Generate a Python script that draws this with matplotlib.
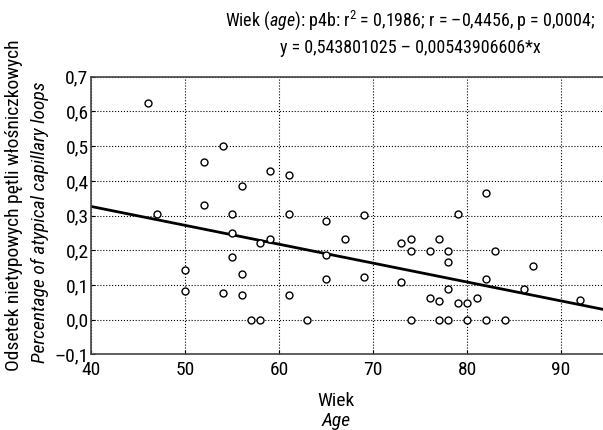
import numpy as np
import matplotlib
matplotlib.use('Agg')
import matplotlib.pyplot as plt
from matplotlib.ticker import FuncFormatter

plt.rcParams['font.family'] = ['Roboto Condensed', 'Liberation Sans', 'DejaVu Sans']
plt.rcParams['mathtext.fontset'] = 'custom'
plt.rcParams['mathtext.rm'] = 'Roboto Condensed'
plt.rcParams['mathtext.it'] = 'Roboto Condensed:italic'

# wiek pacjenta vs odsetek nietypowych petli
age = [46, 47, 50, 50, 52, 52, 54, 54, 55, 55, 55, 56, 56, 56, 57, 58, 58, 59, 59,
       61, 61, 61, 63, 65, 65, 65, 67, 69, 69, 73, 73, 74, 74, 74, 76, 76, 77, 77,
       77, 78, 78, 78, 78, 79, 79, 80, 80, 81, 82, 82, 82, 83, 84, 86, 87, 92]
pct = [0.625, 0.306, 0.142, 0.082, 0.453, 0.331, 0.500, 0.076, 0.306, 0.249, 0.181,
       0.384, 0.131, 0.070, 0.0, 0.220, 0.0, 0.428, 0.233, 0.418, 0.306, 0.070, 0.0,
       0.284, 0.187, 0.117, 0.233, 0.301, 0.123, 0.221, 0.109, 0.234, 0.198, 0.0,
       0.198, 0.062, 0.234, 0.055, 0.0, 0.198, 0.165, 0.089, 0.0, 0.306, 0.049,
       0.049, 0.0, 0.062, 0.364, 0.117, 0.0, 0.198, 0.0, 0.089, 0.154, 0.057]

# regresja z tytulu
a = 0.543801025
b = 0.00543906606

fig = plt.figure(figsize=(6.03, 4.30), dpi=100)
ax = fig.add_axes([0.1514, 0.1756, 0.857, 0.646])

ax.plot(age, pct, 'o', mfc='white', mec='black', ms=5, mew=1.0, zorder=3)
xl = np.array([40, 95])
ax.plot(xl, a - b * xl, 'k-', lw=2.0, zorder=2)

ax.set_xlim(40, 95)
ax.set_ylim(-0.1, 0.7)
ax.set_xticks([40, 50, 60, 70, 80, 90])
ax.set_yticks(np.arange(-0.1, 0.71, 0.1))
ax.grid(True, color='black', linestyle=':', linewidth=0.8)
ax.set_axisbelow(True)

def comma(v, pos):
    s = '%.1f' % v
    if s == '-0.0':
        s = '0.0'
    return s.replace('.', ',').replace('-', '–')

ax.yaxis.set_major_formatter(FuncFormatter(comma))
ax.tick_params(direction='in', length=3, labelsize=14, colors='black')
ax.tick_params(axis='y', pad=2)
ax.tick_params(axis='x', pad=5)
for sp in ax.spines.values():
    sp.set_color('#444444')
    sp.set_linewidth(1.2)

fig.text(410 / 603, 1 - 20 / 430,
         r'Wiek ($\mathit{age}$): p4b: r$^2$ = 0,1986; r = –0,4456, p = 0,0004;',
         ha='center', va='center', fontsize=13)
fig.text(410 / 603, 1 - 48 / 430, 'y = 0,543801025 – 0,00543906606*x',
         ha='center', va='center', fontsize=13)

fig.text(336 / 603, 1 - 401 / 430, 'Wiek', ha='center', va='center', fontsize=14)
fig.text(336 / 603, 1 - 421 / 430, 'Age', ha='center', va='center', fontsize=14,
         style='italic')

fig.text(14 / 603, 1 - 205 / 430, 'Odsetek nietypowych pętli włośniczkowych',
         rotation=90, ha='center', va='center', fontsize=14)
fig.text(40 / 603, 1 - 222 / 430, 'Percentage of atypical capillary loops',
         rotation=90, ha='center', va='center', fontsize=14, style='italic')

fig.savefig('out.png', dpi=100)
